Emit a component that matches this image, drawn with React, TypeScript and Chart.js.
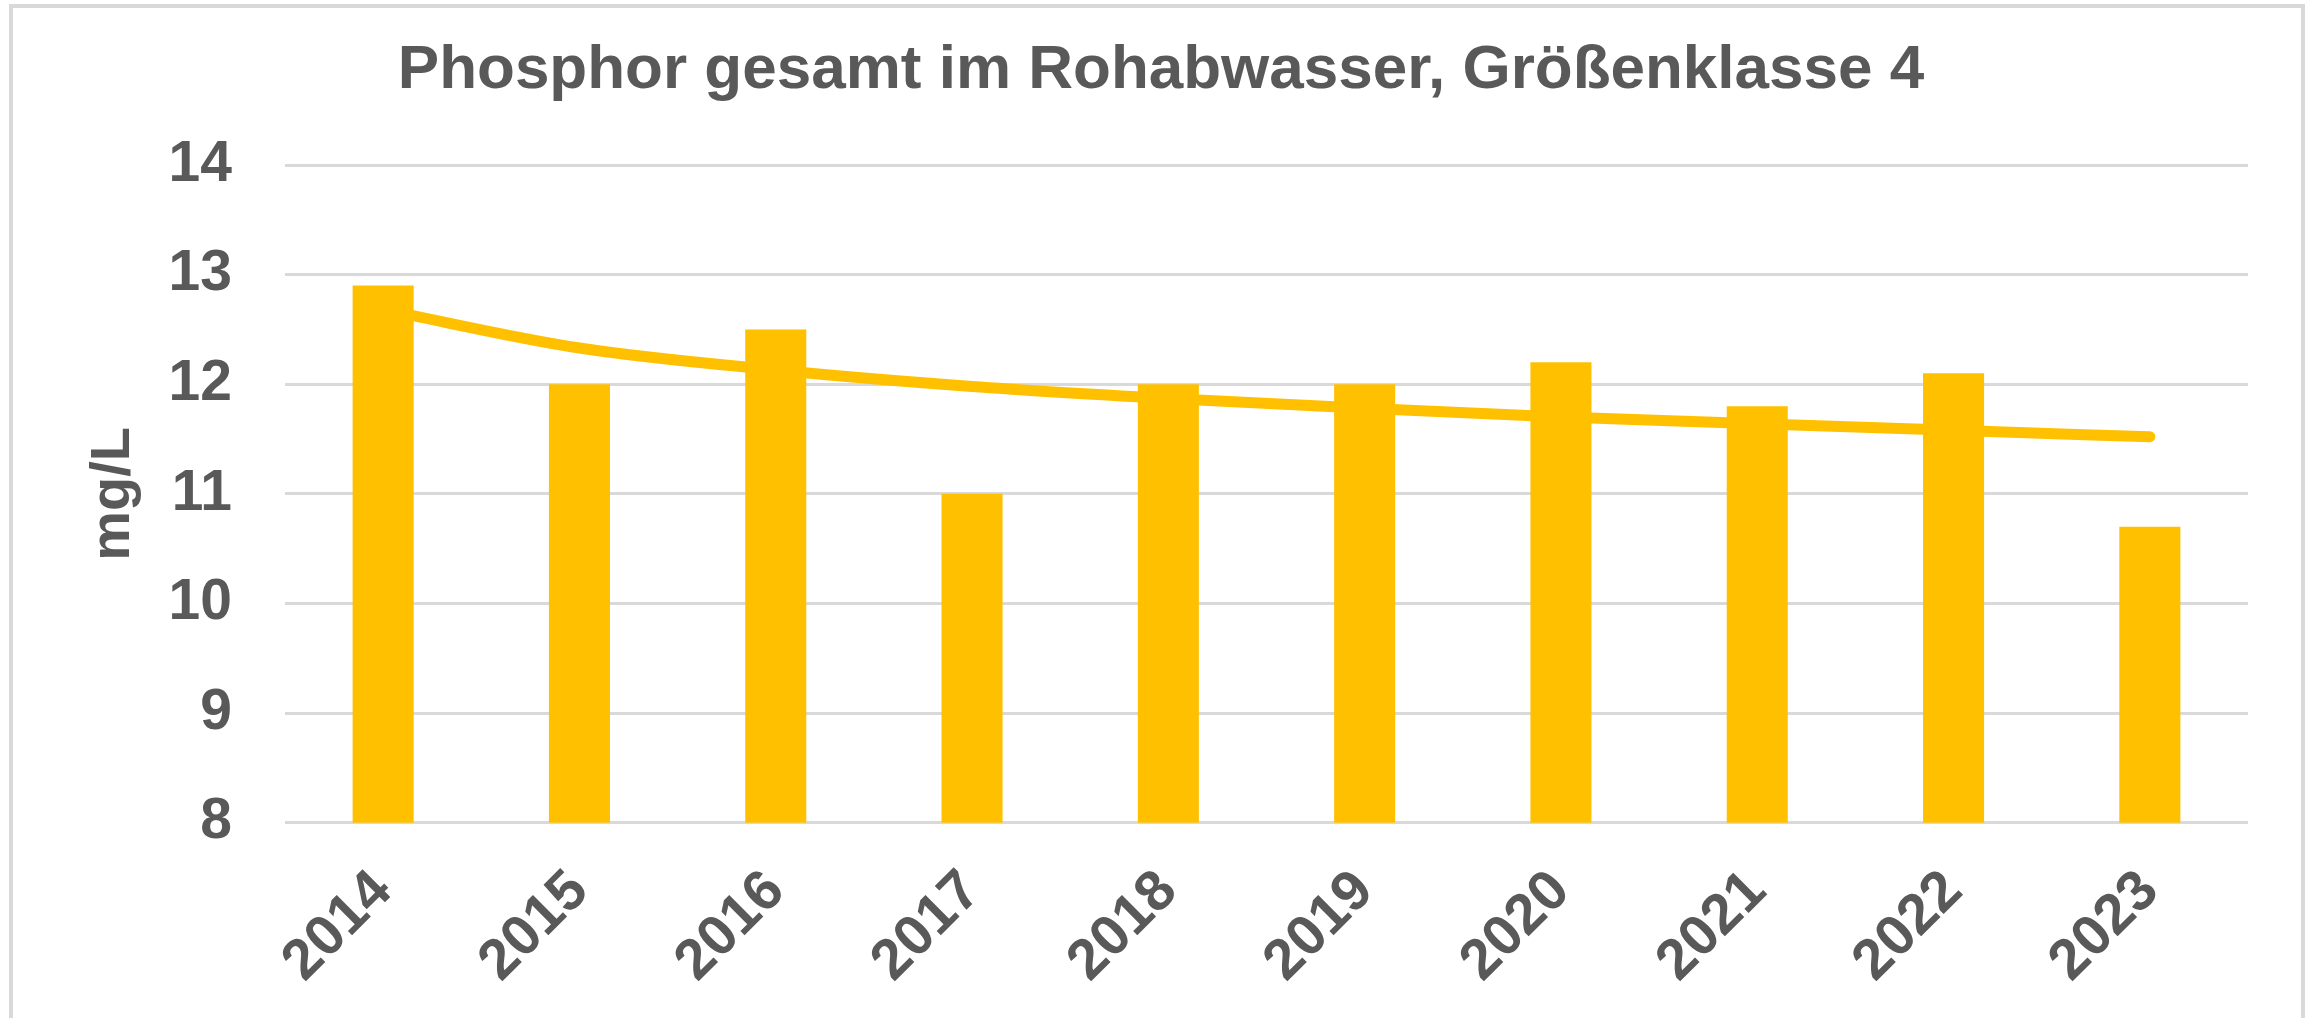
import React, { useEffect, useRef } from "react";
import { Chart, registerables } from "chart.js";

Chart.register(...registerables);

const chartTitle = "Phosphor gesamt im Rohabwasser, Größenklasse 4";
const yAxisTitle = "mg/L";
const years = ["2014", "2015", "2016", "2017", "2018", "2019", "2020", "2021", "2022", "2023"];
const phosphorValues = [12.9, 12.0, 12.5, 11.0, 12.0, 12.0, 12.2, 11.8, 12.1, 10.7];
// logarithmic trend line
const trendValues = [12.68, 12.33, 12.13, 11.98, 11.87, 11.78, 11.7, 11.64, 11.58, 11.52];
const yTicks = [8, 9, 10, 11, 12, 13, 14];

const GOLD = "#FFC000";
const TEXT = "#595959";
const GRID = "#D9D9D9";
const FAMILY = "'Liberation Sans', Arial, sans-serif";

const CANVAS_W = 2288;
const CANVAS_H = 1010;
const BORDER = 4;

export default function App() {
  const canvasRef = useRef<HTMLCanvasElement | null>(null);

  useEffect(() => {
    const canvas = canvasRef.current;
    if (!canvas) return;
    const chart = new Chart(canvas, {
      type: "bar",
      data: {
        labels: years,
        datasets: [
          {
            type: "bar",
            label: "Phosphor gesamt",
            data: phosphorValues,
            backgroundColor: GOLD,
            borderWidth: 0,
            barPercentage: 0.311,
            categoryPercentage: 1,
            order: 1,
          },
          {
            type: "line",
            label: "Trend",
            data: trendValues,
            borderColor: GOLD,
            backgroundColor: GOLD,
            borderWidth: 11,
            pointRadius: 0,
            cubicInterpolationMode: "monotone",
            borderCapStyle: "round",
            fill: false,
            order: 2,
          } as any,
        ],
      },
      options: {
        animation: false,
        responsive: false,
        maintainAspectRatio: false,
        layout: { padding: { left: 61, right: 53, top: 0, bottom: 0 } },
        plugins: {
          legend: { display: false },
          tooltip: { enabled: false },
          title: {
            display: true,
            text: chartTitle,
            color: TEXT,
            font: { family: FAMILY, size: 62, weight: "bold", lineHeight: 1.2 },
            padding: { top: 26.1, bottom: 56.5 },
          },
        },
        scales: {
          x: {
            grid: { display: false, drawTicks: false },
            border: { display: false },
            ticks: {
              color: TEXT,
              font: { family: FAMILY, size: 57, weight: "bold", lineHeight: 1.2 },
              minRotation: 45,
              maxRotation: 45,
              padding: 35,
              autoSkip: false,
            },
            afterFit: (scale: any) => {
              scale.height = 195.3;
            },
          },
          y: {
            min: 8,
            max: 14,
            ticks: {
              stepSize: 1,
              color: TEXT,
              padding: 53,
              font: { family: FAMILY, size: 57, weight: "bold", lineHeight: 1.2 },
            },
            afterBuildTicks: (scale: any) => {
              scale.ticks = yTicks.map((v) => ({ value: v }));
            },
            grid: { color: GRID, lineWidth: 3, drawTicks: false },
            border: { display: false },
            title: {
              display: true,
              text: yAxisTitle,
              color: TEXT,
              font: { family: FAMILY, size: 56, weight: "bold", lineHeight: 1.2 },
              padding: { top: 6, bottom: 0 },
            },
            afterFit: (scale: any) => {
              scale.width = 211;
            },
          },
        },
      },
    });
    return () => chart.destroy();
  }, []);

  return (
    <div
      style={{
        position: "fixed",
        left: 9,
        top: 4,
        width: CANVAS_W + 2 * BORDER,
        height: CANVAS_H + 40,
        border: `${BORDER}px solid ${GRID}`,
        boxSizing: "border-box",
        background: "#fff",
      }}
    >
      <canvas
        ref={canvasRef}
        width={CANVAS_W}
        height={CANVAS_H}
        style={{ display: "block", width: CANVAS_W, height: CANVAS_H }}
      />
    </div>
  );
}
